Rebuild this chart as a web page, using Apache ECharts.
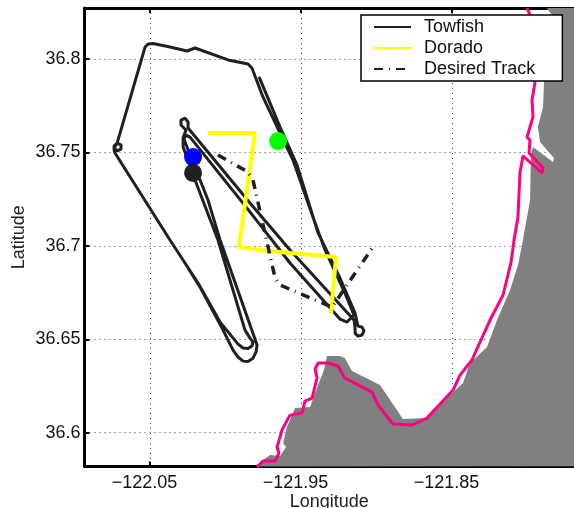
<!DOCTYPE html>
<html>
<head>
<meta charset="utf-8">
<style>html,body{margin:0;padding:0;background:#fff}#c{width:574px;height:508px}</style>
<script src="https://cdn.jsdelivr.net/npm/echarts@6/dist/echarts.min.js"></script>
</head>
<body>
<div id="c"></div>
<script>
const xTicks = [-122.05, -121.95, -121.85];
const yTicks = [36.6, 36.65, 36.7, 36.75, 36.8];
const xRange = [-122.0934, -121.7692];
const yRange = [36.5819, 36.8273];

const towfish = [
[-121.9778,36.7904],[-121.9705,36.7764],[-121.9639,36.7636],[-121.9527,36.7433],[-121.9387,36.7069],
[-121.9242,36.6828],[-121.9142,36.6640],[-121.9123,36.6571],[-121.9096,36.6565],[-121.9083,36.6544],
[-121.9096,36.6523],[-121.9123,36.6517],[-121.9142,36.6533],[-121.9142,36.6560],[-121.9149,36.6603],
[-121.9573,36.6978],[-121.9838,36.7229],
[-122.0248,36.7631],[-122.0255,36.7636],[-122.0248,36.7663],[-122.0268,36.7684],[-122.0295,36.7673],
[-122.0295,36.7647],[-122.0262,36.7620],[-122.0281,36.7577],[-122.0281,36.7529],[-122.0202,36.7352],
[-122.0050,36.7031],[-121.9871,36.6549],[-121.9838,36.6506],[-121.9818,36.6485],[-121.9825,36.6464],
[-121.9851,36.6450],[-121.9884,36.6453],[-121.9917,36.6474],[-122.0036,36.6592],[-122.0182,36.6801],
[-122.0368,36.7031],[-122.0732,36.7497],[-122.0738,36.7513],[-122.0738,36.7534],[-122.0718,36.7550],
[-122.0692,36.7540],[-122.0692,36.7518],[-122.0718,36.7508],[-122.0738,36.7524],[-122.0718,36.7550],
[-122.0533,36.8064],[-122.0513,36.8080],[-122.0480,36.8083],[-122.0368,36.8064],[-122.0255,36.8043],
[-122.0202,36.8059],[-121.9983,36.7995],[-121.9851,36.7973],[-121.9825,36.7952],[-121.9752,36.7797],
[-121.9639,36.7604],[-121.9553,36.7459],[-121.9421,36.7154],[-121.9341,36.6978],[-121.9209,36.6747],
[-121.9149,36.6630],[-121.9195,36.6592],[-121.9242,36.6608],[-121.9573,36.6908],[-121.9858,36.7202],
[-122.0235,36.7582],[-122.0262,36.7593],[-122.0275,36.7572],[-122.0248,36.7513],[-122.0116,36.7245],
[-122.0036,36.7031],[-121.9791,36.6469],[-121.9798,36.6431],[-121.9818,36.6399],[-121.9851,36.6381],
[-121.9884,36.6383],[-121.9917,36.6405],[-121.9950,36.6442],[-122.0023,36.6560],[-122.0169,36.6779],
[-122.0248,36.6881]
];
const dorado = [
[-122.0116,36.7604],[-121.9805,36.7604],[-121.9911,36.6994],[-121.9719,36.6972],[-121.9268,36.6940],[-121.9301,36.6640]
];
const desiredTrack = [
[-122.0050,36.7486],[-121.9851,36.7395],[-121.9818,36.7352],[-121.9672,36.6828],[-121.9639,36.6790],[-121.9295,36.6672],[-121.9023,36.6994]
];
const blueMarker = [[-122.0215,36.7475]];
const blackMarker = [[-122.0215,36.7390]];
const greenMarker = [[-121.9652,36.7561]];
const land = [
[-121.7871,36.8273],[-121.7838,36.8235],[-121.7891,36.7871],[-121.7897,36.7743],[-121.7931,36.7636],
[-121.7917,36.7556],[-121.7825,36.7470],[-121.7831,36.7449],[-121.7964,36.7529],[-121.7977,36.7486],
[-121.7983,36.7245],[-121.8030,36.7031],[-121.8063,36.6897],[-121.8116,36.6763],[-121.8202,36.6603],
[-121.8268,36.6458],[-121.8381,36.6373],[-121.8427,36.6266],[-121.8493,36.6217],[-121.8666,36.6078],
[-121.8825,36.6073],[-121.8977,36.6255],[-121.9162,36.6330],[-121.9209,36.6399],[-121.9242,36.6410],
[-121.9328,36.6410],[-121.9348,36.6335],[-121.9407,36.6212],[-121.9440,36.6137],[-121.9540,36.6132],
[-121.9593,36.6030],[-121.9619,36.5944],[-121.9599,36.5923],[-121.9639,36.5875],[-121.9705,36.5880],
[-121.9752,36.5853],[-121.9791,36.5816],[-121.7692,36.5819],[-121.7692,36.8273]
];
const coast = [
[-121.8003,36.8273],[-121.7983,36.8235],[-121.7950,36.7877],[-121.7970,36.7781],[-121.7964,36.7690],
[-121.8003,36.7582],[-121.7983,36.7566],[-121.7990,36.7497],[-121.7897,36.7417],[-121.7904,36.7390],
[-121.8030,36.7481],[-121.8050,36.7390],[-121.8063,36.7154],[-121.8089,36.7031],[-121.8109,36.6913],
[-121.8162,36.6737],[-121.8248,36.6603],[-121.8368,36.6389],[-121.8447,36.6308],[-121.8493,36.6228],
[-121.8666,36.6078],[-121.8765,36.6041],[-121.8891,36.6046],[-121.8990,36.6148],[-121.9030,36.6217],
[-121.9209,36.6292],[-121.9255,36.6357],[-121.9321,36.6373],[-121.9387,36.6373],[-121.9407,36.6341],
[-121.9394,36.6292],[-121.9427,36.6185],[-121.9474,36.6169],[-121.9493,36.6105],[-121.9573,36.6094],
[-121.9626,36.6014],[-121.9639,36.5976],[-121.9659,36.5923],[-121.9646,36.5891],[-121.9672,36.5848],
[-121.9752,36.5848],[-121.9791,36.5816]
];
const legendNames = ['Towfish', 'Dorado', 'Desired Track'];

const FONT = '"Liberation Sans", Arial, sans-serif';
const INK = '#000';
const LINE = '#231f20';
const xFmt = v => String(v).replace('-', '\u2212');
const dots = {show:true, lineStyle:{color:'#444', width:1, type:[1,4]}};
const axisLine = {show:true, onZero:false, lineStyle:{color:INK, width:3}};
const tick = {show:true, inside:true, length:5, lineStyle:{color:INK, width:2}};

const chart = echarts.init(document.getElementById('c'), null, {renderer:'canvas'});
chart.setOption({
  animation:false,
  backgroundColor:'#fff',
  grid:{left:84.5, right:0, top:8, bottom:41.5, containLabel:false, outerBoundsMode:'none'},
  legend:{
    data:legendNames, orient:'vertical', left:361, top:15,
    backgroundColor:'#fff', borderColor:'#000', borderWidth:1.5, borderRadius:0,
    padding:[3,27,3,12], itemWidth:37, itemHeight:14, itemGap:3,
    itemStyle:{opacity:0},
    textStyle:{fontFamily:FONT, fontSize:18, color:'#111', padding:[0,0,0,8]}
  },
  xAxis:[{
    type:'value', position:'bottom', min:xRange[0], max:xRange[1],
    name:'Longitude', nameLocation:'middle', nameGap:27, nameMoveOverlap:false,
    nameTextStyle:{fontFamily:FONT, fontSize:18, color:'#222'},
    axisLine, splitLine:dots,
    axisTick:Object.assign({}, tick, {customValues:xTicks}),
    axisLabel:{customValues:xTicks, formatter:xFmt, fontFamily:FONT, fontSize:18, color:'#111', margin:8, padding:[0,11,0,0]}
  },{
    type:'value', position:'top', min:xRange[0], max:xRange[1],
    axisLine, splitLine:{show:false},
    axisTick:Object.assign({}, tick, {customValues:xTicks}),
    axisLabel:{show:false}
  }],
  yAxis:{
    type:'value', min:yRange[0], max:yRange[1],
    name:'Latitude', nameLocation:'middle', nameGap:56, nameRotate:90, nameMoveOverlap:false,
    nameTextStyle:{fontFamily:FONT, fontSize:18, color:'#222'},
    axisLine, splitLine:dots,
    axisTick:Object.assign({}, tick, {customValues:yTicks}),
    axisLabel:{customValues:yTicks, fontFamily:FONT, fontSize:18, color:'#111', margin:4}
  },
  series:[
    {type:'custom', name:'land', clip:true, silent:true, data:[0],
     renderItem:(p, api) => ({
       type:'polygon',
       shape:{points:land.map(d => api.coord(d))},
       style:{fill:'#808080', stroke:null}
     })},
    {type:'line', name:'coast', data:coast, symbol:'none', lineStyle:{color:'#ff0080', width:3}},
    {type:'line', name:'Towfish', data:towfish, symbol:'none', itemStyle:{color:LINE}, lineStyle:{color:LINE, width:3}},
    {type:'line', name:'Dorado', data:dorado, symbol:'none', itemStyle:{color:'#ffff00'}, lineStyle:{color:'#ffff00', width:4}},
    {type:'line', name:'Desired Track', data:desiredTrack, symbol:'none', itemStyle:{color:LINE}, lineStyle:{color:LINE, width:3.5, type:[9,6,1,6]}},
    {type:'scatter', z:5, name:'blue', data:blueMarker, symbolSize:18, itemStyle:{color:'#0000ff', opacity:1}},
    {type:'scatter', z:5, name:'black', data:blackMarker, symbolSize:18, itemStyle:{color:LINE, opacity:1}},
    {type:'scatter', z:5, name:'green', data:greenMarker, symbolSize:18, itemStyle:{color:'#00ff00', opacity:1}}
  ]
});
</script>
</body>
</html>
